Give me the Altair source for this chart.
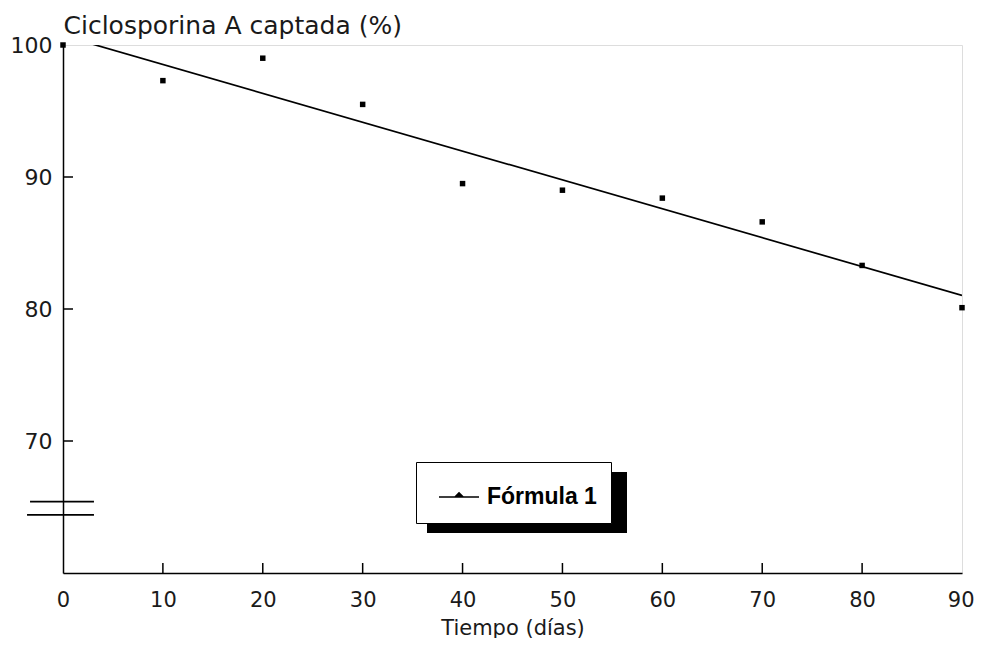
import altair as alt
import pandas as pd

# --- data ---
tiempo = [0, 10, 20, 30, 40, 50, 60, 70, 80, 90]
captada = [100.0, 97.3, 99.0, 95.5, 89.5, 89.0, 88.4, 86.6, 83.3, 80.1]
serie = ["Fórmula 1"] * len(tiempo)

x_ticks_in = [10, 20, 30, 40, 50, 60, 70, 80]
y_ticks_in = [70, 80, 90]
y_labels = [70, 80, 90, 100]
x_labels = [0, 10, 20, 30, 40, 50, 60, 70, 80, 90]

# axis-break marks on the y axis
break_y = [65.4, 64.4]
break_x1 = [-3.3, -3.6]
break_x2 = [3.1, 3.1]

df = pd.DataFrame({"t": tiempo, "v": captada, "serie": serie})
df_xt = pd.DataFrame({"t": x_ticks_in})
df_yt = pd.DataFrame({"v": y_ticks_in})
df_br = pd.DataFrame({"y": break_y, "x1": break_x1, "x2": break_x2})

FONT = "DejaVu Sans"
TXT = "#1a1a1a"
xscale = alt.Scale(domain=[0, 90], nice=False, zero=False)
yscale = alt.Scale(domain=[60, 100], nice=False, zero=False)

x_axis = alt.Axis(
    values=x_labels, ticks=False, grid=False, domainColor="black", domainWidth=1.5,
    labelFont=FONT, labelFontSize=21, labelColor=TXT, labelPadding=16,
    labelAngle=0, labelFlush=False,
    labelAlign={"condition": {"test": "datum.value === 90", "value": "right"}, "value": "center"},
    labelOffset={"condition": {"test": "datum.value === 90", "value": 12}, "value": 0},
    title="Tiempo (días)", titleFont=FONT, titleFontSize=21, titleFontWeight="normal",
    titleColor=TXT, titleY=61, titleBaseline="alphabetic",
)
y_axis = alt.Axis(
    values=y_labels, ticks=False, grid=False, domainColor="black", domainWidth=1.5,
    labelFont=FONT, labelFontSize=22, labelColor=TXT, labelPadding=11,
    labelBaseline="middle", labelFlush=False,
    title="Ciclosporina A captada (%)", titleFont=FONT, titleFontSize=25,
    titleFontWeight="normal", titleColor=TXT, titleAngle=0, titleAlign="left",
    titleX=0, titleY=-12, titleBaseline="alphabetic",
)

shadow = alt.Chart(pd.DataFrame({"k": [0]})).mark_rect(color="black").encode(
    x=alt.value(364), x2=alt.value(564), y=alt.value(427), y2=alt.value(488)
)

line = alt.Chart(df).transform_regression(
    "t", "v", groupby=["serie"]
).mark_line(strokeWidth=1.7, clip=True).encode(
    x=alt.X("t:Q", scale=xscale, axis=x_axis),
    y=alt.Y("v:Q", scale=yscale, axis=y_axis),
    color=alt.Color(
        "serie:N",
        scale=alt.Scale(range=["black"]),
        legend=alt.Legend(
            title=None, orient="none", legendX=353, legendY=417,
            fillColor="white", strokeColor="black", padding=14,
            symbolType="M-1,0H1M-0.2,0L0,-0.2L0.2,0Z", symbolSize=1600,
            symbolStrokeWidth=1.7, symbolStrokeColor="black", symbolFillColor="black",
            symbolOffset=8, labelOffset=7,
            labelFont="Liberation Sans", labelFontWeight="bold", labelFontSize=23,
            labelColor="black",
        ),
    ),
)

points = alt.Chart(df).mark_square(size=30, color="black", opacity=1, filled=True).encode(
    x=alt.X("t:Q", scale=xscale),
    y=alt.Y("v:Q", scale=yscale),
)

xticks = alt.Chart(df_xt).mark_rule(color="black", strokeWidth=1.5).encode(
    x=alt.X("t:Q", scale=xscale), y=alt.value(528), y2=alt.value(518)
)
yticks = alt.Chart(df_yt).mark_rule(color="black", strokeWidth=1.5).encode(
    y=alt.Y("v:Q", scale=yscale), x=alt.value(0), x2=alt.value(10)
)
breaks = alt.Chart(df_br).mark_rule(color="black", strokeWidth=1.8).encode(
    x=alt.X("x1:Q", scale=xscale), x2="x2:Q", y=alt.Y("y:Q", scale=yscale)
)

chart = alt.layer(shadow, line, points, xticks, yticks, breaks).properties(
    width=899, height=528,
    autosize=alt.AutoSizeParams(type="none"),
    padding={"left": 55, "top": 37, "right": 12, "bottom": 65},
    background="white",
).configure_view(stroke="black", strokeWidth=1.5).configure(font=FONT)

chart.save("out.html", embed_options={"renderer": "svg", "actions": False})
